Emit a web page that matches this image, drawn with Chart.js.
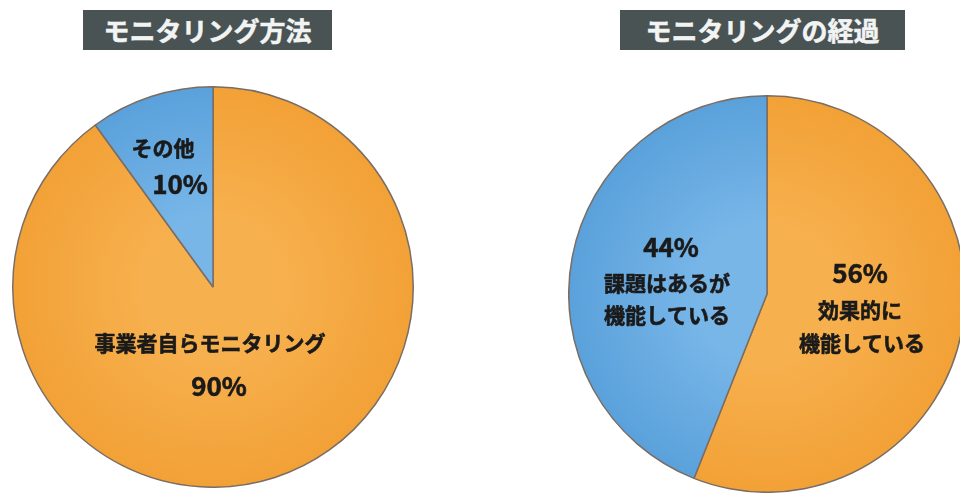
<!DOCTYPE html>
<html lang="ja">
<head>
<meta charset="utf-8">
<script src="https://cdn.jsdelivr.net/npm/chart.js@4"></script>
<style>
  html, body { margin: 0; padding: 0; background: #fff; overflow: hidden; }
  body { width: 960px; height: 493px; position: relative; font-family: "Noto Sans CJK JP", sans-serif; }
  .title {
    position: absolute; height: 40px; background: #4a5354; color: #f2f4f4;
    font-weight: bold; font-size: 26px; line-height: 40px; text-align: center;
    -webkit-text-stroke: 0.5px #f2f4f4;
  }
  .pie { position: absolute; }
</style>
</head>
<body>
<div class="title" style="left:83px;top:10px;width:249px;">モニタリング方法</div>
<div class="title" style="left:620px;top:10px;width:285px;">モニタリングの経過</div>
<div class="pie" style="left:12px;top:86px;width:402px;height:402px;"><canvas id="method-chart"></canvas></div>
<div class="pie" style="left:568px;top:95px;width:398px;height:398px;"><canvas id="progress-chart"></canvas></div>
<script>
// モニタリング方法
const methodLabels = ["事業者自らモニタリング", "その他"];
const methodValues = [90, 10];

// モニタリングの経過
const progressLabels = ["効果的に機能している", "課題はあるが機能している"];
const progressValues = [56, 44];

const ORANGE = ["#f7b04e", "#f2a136"];
const BLUE = ["#78b6e8", "#5aa1db"];
const SLICE_STOPS = [ORANGE, BLUE];

// label lines per slice: "%" marks where the value goes; dx/dy are offsets from pie center
const methodText = [
  [{ t: "事業者自らモニタリング", dx: -3, dy: 56 }, { t: "%", dx: 6, dy: 99 }],
  [{ t: "その他", dx: -50, dy: -139 }, { t: "%", dx: -33, dy: -103 }],
];
const progressText = [
  [{ t: "%", dx: 93, dy: -21 }, { t: "効果的に", dx: 93, dy: 16 }, { t: "機能している", dx: 95, dy: 49 }],
  [{ t: "%", dx: -96, dy: -47 }, { t: "課題はあるが", dx: -100, dy: -11 }, { t: "機能している", dx: -100, dy: 21 }],
];

// radial gradient centred on the pie, lighter towards the middle
function sliceFill(ctx) {
  const stops = SLICE_STOPS[ctx.dataIndex % SLICE_STOPS.length];
  const area = ctx.chart.chartArea;
  if (!area) return stops[1];
  const cx = (area.left + area.right) / 2;
  const cy = (area.top + area.bottom) / 2;
  const r = Math.min(area.right - area.left, area.bottom - area.top) / 2;
  const g = ctx.chart.ctx.createRadialGradient(cx, cy, 0, cx, cy, r);
  g.addColorStop(0, stops[0]);
  g.addColorStop(0.35, stops[0]);
  g.addColorStop(1, stops[1]);
  return g;
}

const sliceLabels = {
  id: "sliceLabels",
  afterDatasetsDraw(chart, args, opts) {
    const { ctx } = chart;
    const meta = chart.getDatasetMeta(0);
    const values = chart.data.datasets[0].data;
    ctx.save();
    ctx.fillStyle = "#1a1a1a";
    ctx.strokeStyle = "#1a1a1a";
    ctx.lineWidth = 0.6;
    ctx.textAlign = "center";
    ctx.textBaseline = "middle";
    meta.data.forEach((arc, i) => {
      opts.lines[i].forEach((line) => {
        const isValue = line.t === "%";
        const text = isValue ? values[i] + "%" : line.t;
        ctx.font = isValue
          ? "bold 26px 'Noto Sans CJK JP', sans-serif"
          : "bold 21px 'Noto Sans CJK JP', sans-serif";
        ctx.fillText(text, arc.x + line.dx, arc.y + line.dy);
        ctx.strokeText(text, arc.x + line.dx, arc.y + line.dy);
      });
    });
    ctx.restore();
  },
};

function makePie(id, labels, values, lines) {
  return new Chart(document.getElementById(id).getContext("2d"), {
    type: "pie",
    data: {
      labels: labels,
      datasets: [
        {
          data: values,
          backgroundColor: sliceFill,
          borderColor: "#7a6d63",
          borderWidth: 1.5,
        },
      ],
    },
    options: {
      responsive: true,
      maintainAspectRatio: false,
      animation: false,
      layout: { padding: 0 },
      plugins: {
        legend: { display: false },
        tooltip: { enabled: false },
        sliceLabels: { lines: lines },
      },
    },
    plugins: [sliceLabels],
  });
}

makePie("method-chart", methodLabels, methodValues, methodText);
makePie("progress-chart", progressLabels, progressValues, progressText);
</script>
</body>
</html>
